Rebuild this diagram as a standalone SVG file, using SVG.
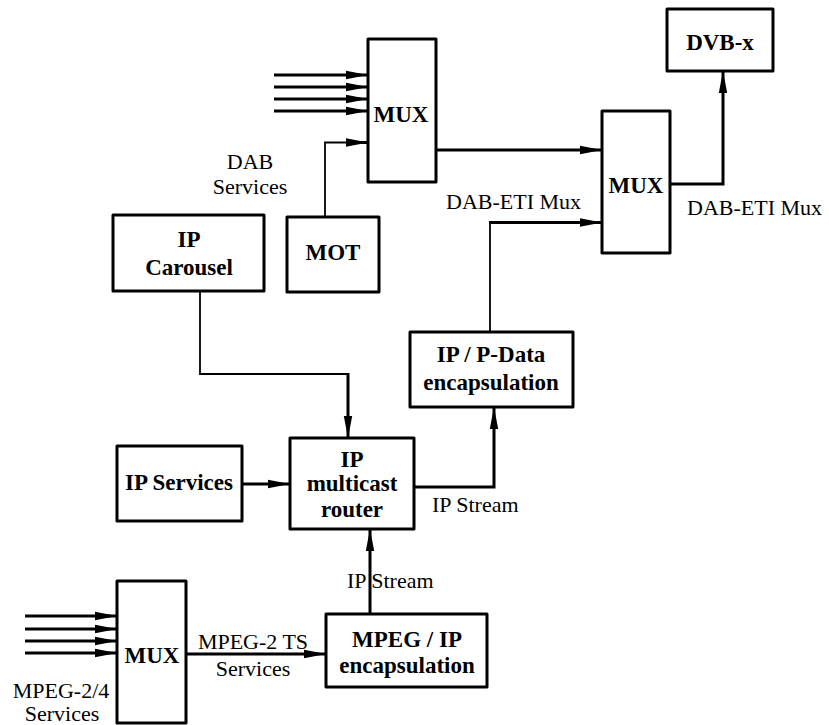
<svg xmlns="http://www.w3.org/2000/svg" width="829" height="725" viewBox="0 0 829 725" font-family="Liberation Serif, DejaVu Serif, serif">
  <style>
    .box { fill: #fff; stroke: #000; stroke-width: 3; stroke-linejoin: round; }
    .bt { font-weight: bold; font-size: 23px; text-anchor: middle; fill: #000; }
    .lt { font-size: 22px; fill: #000; }
    .mid { text-anchor: middle; }
    .w { fill: none; stroke: #000; stroke-width: 3; }
    .thin { fill: none; stroke: #000; stroke-width: 1.8; }
    .arr { marker-end: url(#head); }
  </style>
  <defs>
    <marker id="head" markerUnits="userSpaceOnUse" markerWidth="22" markerHeight="10" viewBox="0 0 22 10" refX="22" refY="5" orient="auto">
      <path d="M0,0.8 L22,5 L0,9.2 z" fill="#000"/>
    </marker>
  </defs>

  <!-- connectors -->
  <g id="connectors">
    <!-- DAB service inputs to the upper multiplexer -->
    <path class="w arr" d="M274,75 H368"/>
    <path class="w arr" d="M274,87 H368"/>
    <path class="w arr" d="M274,99 H368"/>
    <path class="w arr" d="M274,111 H368"/>
    <!-- MOT into upper multiplexer -->
    <path class="thin" d="M325,217 V142.5 H350"/>
    <path class="w arr" d="M349,142.5 H368"/>
    <!-- upper multiplexer to ETI multiplexer -->
    <path class="w arr" d="M436,150 H602"/>
    <!-- IP / P-Data encapsulation to ETI multiplexer -->
    <path class="thin" d="M490,332 V222.5 H500"/>
    <path class="w arr" d="M489,222.5 H602"/>
    <!-- ETI multiplexer to DVB-x -->
    <path class="w arr" d="M670,184 H723 V71"/>
    <!-- IP carousel to multicast router -->
    <path class="thin" d="M200,291 V374 H348"/>
    <path class="w arr" d="M348,373 V438"/>
    <!-- IP services to router -->
    <path class="w arr" d="M242,484 H290"/>
    <!-- router to IP / P-Data encapsulation -->
    <path class="w arr" d="M414,487 H494 V407"/>
    <!-- MPEG / IP encapsulation to router -->
    <path class="w arr" d="M370,614 V529"/>
    <!-- lower multiplexer to MPEG / IP encapsulation -->
    <path class="w arr" d="M186,654 H326"/>
    <!-- MPEG-2/4 service inputs to the lower multiplexer -->
    <path class="w arr" d="M25,616 H117"/>
    <path class="w arr" d="M25,629 H117"/>
    <path class="w arr" d="M25,641 H117"/>
    <path class="w arr" d="M25,653 H117"/>
  </g>

  <!-- connector labels -->
  <g id="labels">
    <text class="lt mid" x="250" y="169">DAB</text>
    <text class="lt mid" x="250" y="194">Services</text>
    <text class="lt" x="446" y="209">DAB-ETI Mux</text>
    <text class="lt" x="687" y="215">DAB-ETI Mux</text>
    <text class="lt" x="432" y="512">IP Stream</text>
    <text class="lt" x="347" y="588">IP Stream</text>
    <text class="lt mid" x="253" y="649">MPEG-2 TS</text>
    <text class="lt mid" x="253" y="676">Services</text>
    <text class="lt mid" x="61" y="698" font-size="20">MPEG-2/4</text>
    <text class="lt mid" x="62" y="721" font-size="20">Services</text>
  </g>

  <g id="mux-dab">
    <rect class="box" x="368" y="39" width="68" height="143"/>
    <text class="bt" x="401" y="122">MUX</text>
  </g>
  <g id="mux-eti">
    <rect class="box" x="602" y="111" width="68" height="142"/>
    <text class="bt" x="636" y="193">MUX</text>
  </g>
  <g id="dvb-x">
    <rect class="box" x="667" y="9" width="106" height="62"/>
    <text class="bt" x="720" y="50">DVB-x</text>
  </g>
  <g id="ip-carousel">
    <rect class="box" x="113" y="215" width="151" height="76"/>
    <text class="bt" x="189" y="247">IP</text>
    <text class="bt" x="189" y="275">Carousel</text>
  </g>
  <g id="mot">
    <rect class="box" x="287" y="217" width="92" height="75"/>
    <text class="bt" x="333" y="260">MOT</text>
  </g>
  <g id="ip-pdata">
    <rect class="box" x="410" y="332" width="163" height="75"/>
    <text class="bt" x="491" y="362">IP / P-Data</text>
    <text class="bt" x="491" y="390">encapsulation</text>
  </g>
  <g id="ip-services">
    <rect class="box" x="117" y="446" width="125" height="75"/>
    <text class="bt" x="179" y="490">IP Services</text>
  </g>
  <g id="router">
    <rect class="box" x="290" y="438" width="124" height="91"/>
    <text class="bt" x="352" y="467">IP</text>
    <text class="bt" x="352" y="491">multicast</text>
    <text class="bt" x="352" y="517">router</text>
  </g>
  <g id="mpeg-ip">
    <rect class="box" x="326" y="614" width="161" height="73"/>
    <text class="bt" x="407" y="647">MPEG / IP</text>
    <text class="bt" x="407" y="673">encapsulation</text>
  </g>
  <g id="mux-mpeg">
    <rect class="box" x="117" y="581" width="69" height="142"/>
    <text class="bt" x="152" y="663">MUX</text>
  </g>
</svg>
